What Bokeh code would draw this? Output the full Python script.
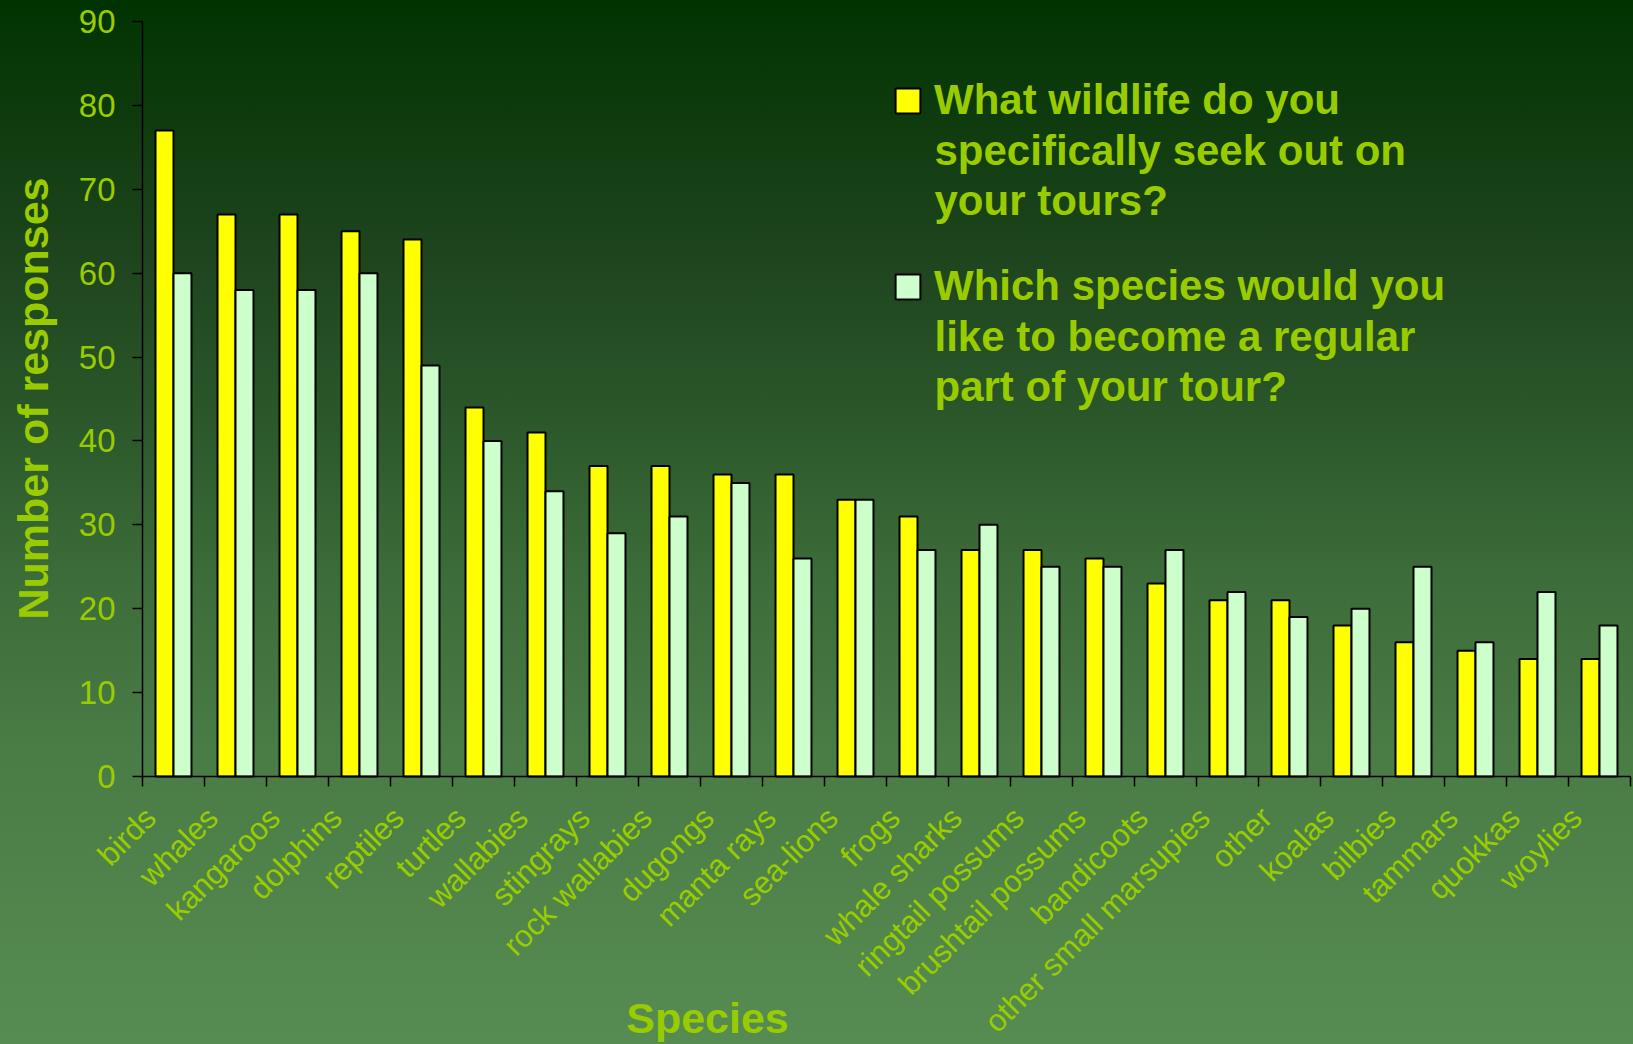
import math
from bokeh.plotting import figure
from bokeh.models import (ColumnDataSource, Range1d, FixedTicker,
                          Legend, LegendItem, Label, GlobalInlineStyleSheet)
from bokeh.transform import dodge
from bokeh.embed import file_html
from bokeh.resources import INLINE

species = ["birds", "whales", "kangaroos", "dolphins", "reptiles", "turtles",
           "wallabies", "stingrays", "rock wallabies", "dugongs", "manta rays",
           "sea-lions", "frogs", "whale sharks", "ringtail possums",
           "brushtail possums", "bandicoots", "other small marsupies", "other",
           "koalas", "bilbies", "tammars", "quokkas", "woylies"]
seek_out = [77, 67, 67, 65, 64, 44, 41, 37, 37, 36, 36, 33, 31, 27, 27, 26,
            23, 21, 21, 18, 16, 15, 14, 14]
become_regular = [60, 58, 58, 60, 49, 40, 34, 29, 31, 35, 26, 33, 27, 30, 25,
                  25, 27, 22, 19, 20, 25, 16, 22, 18]
y_ticks = [0, 10, 20, 30, 40, 50, 60, 70, 80, 90]
series_labels = ["What wildlife do you\nspecifically seek out on\nyour tours?",
                 "Which species would you\nlike to become a regular\npart of your tour?"]
x_title = "Species"
y_title = "Number of responses"

TXT = "#99CC00"
FONT = "Liberation Sans"

# page / layout geometry (pixels)
W, H = 1633, 1044
AX_LEFT, AX_RIGHT = 142, 1630      # x extent of the category axis
AX_Y0, AX_YMAX = 776, 21           # pixel rows of 0 and of the top tick
Y_MAX = 90

css = GlobalInlineStyleSheet(css="""
html, body { margin:0 !important; padding:0 !important; height:100%; overflow:hidden; }
body { background: linear-gradient(to bottom, #013301 0%, #1f451e 25%, #2b572a 40%, #3c6c39 55%, #4a7c46 72%, #568c51 100%); }
""")

n = len(species)
centers = [i + 0.5 for i in range(n)]
source = ColumnDataSource(data=dict(species=species, pos=centers,
                                    seek_out=seek_out,
                                    become_regular=become_regular))

ppx = (AX_RIGHT - AX_LEFT) / n
ppy = (AX_Y0 - AX_YMAX) / Y_MAX
x_range = Range1d(-AX_LEFT / ppx, n + (W - AX_RIGHT) / ppx)
y_range = Range1d(-(H - AX_Y0) / ppy, Y_MAX + AX_YMAX / ppy)

p = figure(x_range=x_range, y_range=y_range,
           width=W, height=H, output_backend="svg", toolbar_location=None,
           min_border_left=0, min_border_right=0, min_border_top=0,
           min_border_bottom=0)
p.stylesheets = [css]
p.background_fill_color = None
p.border_fill_color = None
p.outline_line_color = None
p.xgrid.visible = False
p.ygrid.visible = False

r1 = p.vbar(x=dodge("pos", -0.145), top="seek_out",
            width=0.29, source=source, fill_color="#FFFF00",
            line_color="black", line_width=2)
r2 = p.vbar(x=dodge("pos", 0.145), top="become_regular",
            width=0.29, source=source, fill_color="#CCFFCC",
            line_color="black", line_width=2)

# y axis, crossing at x = 0
ya = p.yaxis[0]
ya.fixed_location = 0
ya.bounds = (0, Y_MAX)
ya.ticker = FixedTicker(ticks=y_ticks)
ya.axis_line_color = "black"
ya.axis_line_width = 1.5
ya.major_tick_line_color = "black"
ya.major_tick_line_width = 1.5
ya.major_tick_out = 10
ya.major_tick_in = 0
ya.minor_tick_line_color = None
ya.major_label_text_font = FONT
ya.major_label_text_font_size = "33px"
ya.major_label_text_color = TXT
ya.major_label_standoff = 17

# x axis at y = 0: labels near category centres, ticks between categories
label_shift = -0.37
xa = p.xaxis[0]
xa.fixed_location = 0
xa.bounds = (0, n)
xa.ticker = FixedTicker(ticks=[c + label_shift for c in centers],
                        minor_ticks=list(range(n + 1)))
xa.major_label_overrides = {c + label_shift: s for c, s in zip(centers, species)}
xa.axis_line_color = "black"
xa.axis_line_width = 1.5
xa.major_tick_out = 0
xa.major_tick_in = 0
xa.minor_tick_out = 10
xa.minor_tick_in = 0
xa.minor_tick_line_color = "black"
xa.minor_tick_line_width = 1.5
xa.major_label_orientation = math.pi / 4
xa.major_label_text_font = FONT
xa.major_label_text_font_size = "31px"
xa.major_label_text_color = TXT
xa.major_label_standoff = 26

# axis titles
p.add_layout(Label(x=707, y=H - 1017, x_units="screen", y_units="screen",
                   text=x_title, text_font=FONT, text_font_size="43px",
                   text_font_style="bold", text_color=TXT,
                   text_align="center", text_baseline="middle"))
p.add_layout(Label(x=32, y=H - 398, x_units="screen", y_units="screen",
                   angle=math.pi / 2, text=y_title, text_font=FONT,
                   text_font_size="43px", text_font_style="bold",
                   text_color=TXT, text_align="center", text_baseline="middle"))

# legend: first line of each entry with its swatch, following lines as text
lines = [s.split("\n") for s in series_labels]
legend = Legend(items=[LegendItem(label=lines[0][0], renderers=[r1]),
                       LegendItem(label=lines[1][0], renderers=[r2])],
                location=(892, H - 310))
legend.padding = 0
legend.margin = 0
legend.border_line_color = None
legend.background_fill_alpha = 0
legend.glyph_width = 31
legend.glyph_height = 31
legend.label_standoff = 11
legend.spacing = 138
legend.label_text_font = FONT
legend.label_text_font_size = "42px"
legend.label_text_font_style = "bold"
legend.label_text_color = TXT
p.add_layout(legend, "center")

first_line_y = [100, 286]
line_step = 50
for item_lines, y_first in zip(lines, first_line_y):
    for k, txt in enumerate(item_lines[1:], start=1):
        p.add_layout(Label(x=934, y=H - (y_first + k * line_step),
                           x_units="screen", y_units="screen", text=txt,
                           text_font=FONT, text_font_size="42px",
                           text_font_style="bold", text_color=TXT,
                           text_align="left", text_baseline="middle"))

open("out.html", "w").write(file_html(p, INLINE))
